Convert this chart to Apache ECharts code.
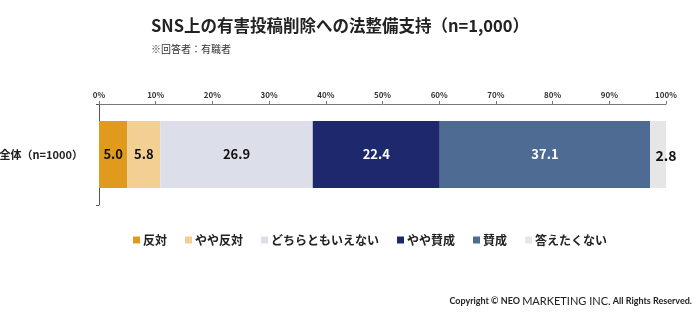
<!DOCTYPE html>
<html><head><meta charset="utf-8">
<script src="https://cdn.jsdelivr.net/npm/echarts@6/dist/echarts.min.js"></script>
<style>html,body{margin:0;padding:0;background:#fff}#c{width:699px;height:318px}</style>
</head><body><div id="c"></div>
<script>
const categories = ['全体（n=1000）'];
const seriesNames = ['反対', 'やや反対', 'どちらともいえない', 'やや賛成', '賛成', '答えたくない'];
const v_hantai = [5.0];
const v_yayaHantai = [5.8];
const v_dochira = [26.9];
const v_yayaSansei = [22.4];
const v_sansei = [37.1];
const v_kotaetakunai = [2.8];
const tickLabels = ['0%','10%','20%','30%','40%','50%','60%','70%','80%','90%','100%'];

const values = [v_hantai, v_yayaHantai, v_dochira, v_yayaSansei, v_sansei, v_kotaetakunai];
const colors = ['#E09B1E', '#F2CF93', '#DCDFEA', '#1E286C', '#4D6B93', '#E6E6E6'];
const labelColors = ['#111', '#111', '#111', '#fff', '#fff', '#111'];
const labelOffsets = [[0,0],[0,0],[0,0],[0,0],[0,0],[8,1]];
const FONT = '"Noto Sans CJK JP", "Noto Sans", sans-serif';

const chart = echarts.init(document.getElementById('c'));
chart.setOption({
  animation: false,
  textStyle: { fontFamily: FONT },
  title: [{
    text: 'SNS上の有害投稿削除への法整備支持（n=1,000）',
    left: 146, top: 12,
    textStyle: { fontSize: 16.5, fontWeight: 'bold', color: '#222', fontFamily: FONT }
  }, {
    text: '※回答者：有職者',
    left: 146, top: 39,
    textStyle: { fontSize: 10, fontWeight: 'normal', color: '#333', fontFamily: FONT }
  }, {
    text: '{a|Copyright © NEO }{b|MARKETING INC.}{a| All Rights Reserved.}',
    right: 2, top: 291,
    textStyle: {
      rich: {
        a: { fontSize: 9, fontWeight: 'bold', color: '#222', fontFamily: 'Lato, sans-serif' },
        b: { fontSize: 11, color: '#222', fontWeight: 'normal', fontFamily: 'Lato, sans-serif' }
      }
    }
  }],
  legend: {
    data: seriesNames,
    top: 229, left: 128,
    itemWidth: 7, itemHeight: 7, itemGap: 18,
    icon: 'rect',
    textStyle: { fontSize: 12, fontWeight: 'bold', color: '#222', fontFamily: FONT, padding: [0,0,0,-2] }
  },
  grid: { left: 99, right: 33, top: 104, bottom: 113, outerBoundsMode: 'none', containLabel: false },
  xAxis: {
    type: 'value', position: 'top', min: 0, max: 100, interval: 10,
    splitLine: { show: false },
    axisLine: { show: true, lineStyle: { color: '#777', width: 1 } },
    axisTick: { show: true, length: 3, lineStyle: { color: '#777' } },
    axisLabel: {
      fontSize: 8, fontWeight: 'bold', color: '#333', margin: 5,
      formatter: (v) => tickLabels[Math.round(v / 10)]
    }
  },
  yAxis: {
    type: 'category', data: categories,
    axisLine: { show: true, lineStyle: { color: '#555', width: 1 } },
    axisTick: { show: true, length: 3, lineStyle: { color: '#555' } },
    axisLabel: { fontSize: 11, fontWeight: 'bold', color: '#222', margin: 16 }
  },
  series: seriesNames.map((name, i) => ({
    name, type: 'bar', stack: 'all', data: values[i],
    barWidth: 67,
    itemStyle: { color: colors[i] },
    label: {
      show: true, position: 'inside', offset: labelOffsets[i],
      formatter: (p) => p.value.toFixed(1),
      fontSize: i === 5 ? 14 : 13, fontWeight: 'bold', color: labelColors[i], fontFamily: FONT
    }
  }))
});
</script></body></html>
